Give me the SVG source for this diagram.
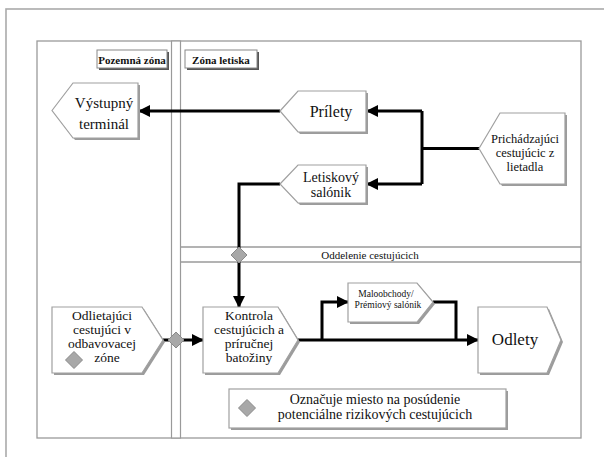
<svg xmlns="http://www.w3.org/2000/svg" width="604" height="457" viewBox="0 0 604 457">
<style>
.frame{fill:none;stroke:#9a9a9a;stroke-width:1.3}
.node{fill:#fff;stroke:#a0a0a0;stroke-width:1.2}
.sh{fill:#9c9c9c;stroke:none}
.shd{fill:#555;stroke:none}
.lbl{fill:#fff;stroke:#888;stroke-width:1}
text{font-family:'Liberation Serif','Times New Roman','DejaVu Serif',serif;fill:#111;text-anchor:middle}
.b{font-weight:bold}
.c{fill:none;stroke:#000;stroke-width:3}
.dia{fill:#a8a8a8;stroke:#8a8a8a;stroke-width:1}
</style>
<defs>
<marker id="ah" viewBox="0 0 12 12" refX="11" refY="6" markerWidth="13" markerHeight="12" markerUnits="userSpaceOnUse" orient="auto">
<path d="M0,0 L12,6 L0,12 z" fill="#000"/>
</marker>
</defs>
<rect width="604" height="457" fill="#fff"/>
<rect class="frame" x="6" y="9" width="640" height="480" style="stroke:#aaa;stroke-width:1.6"/>
<g id="frame">
<rect class="frame" x="37" y="41" width="544" height="397"/>
<rect x="171.5" y="41" width="9" height="397" fill="#fff" stroke="#9a9a9a" stroke-width="1.2"/>
<line class="frame" x1="181" y1="247" x2="581" y2="247"/>
<line class="frame" x1="181" y1="262" x2="581" y2="262"/>
<text x="370" y="258.5" font-size="11">Oddelenie cestujúcich</text>
</g>
<g id="label-pozemna">
<rect class="shd" x="99" y="52" width="70" height="18"/>
<rect class="lbl" x="97" y="50" width="70" height="18"/>
<text class="b" x="132" y="63.5" font-size="11">Pozemná zóna</text>
</g>
<g id="label-letiska">
<rect class="shd" x="187" y="52" width="72" height="18"/>
<rect class="lbl" x="185" y="50" width="72" height="18"/>
<text class="b" x="221" y="63.5" font-size="11">Zóna letiska</text>
</g>
<g id="connectors">
<polyline class="c" points="479,148.5 422,148.5"/>
<polyline class="c" points="422,111 422,184"/>
<line class="c" x1="422" y1="111" x2="367" y2="111" marker-end="url(#ah)"/>
<line class="c" x1="422" y1="184" x2="367" y2="184" marker-end="url(#ah)"/>
<line class="c" x1="280" y1="111" x2="139" y2="111" marker-end="url(#ah)"/>
<polyline class="c" points="280,184 239,184 239,307" marker-end="url(#ah)"/>
<line class="c" x1="163" y1="340" x2="203" y2="340" marker-end="url(#ah)"/>
<line class="c" x1="298" y1="340" x2="478" y2="340" marker-end="url(#ah)"/>
<polyline class="c" points="322,340 322,302 348,302" marker-end="url(#ah)"/>
<polyline class="c" points="433,302 456,302 456,340"/>
</g>
<g id="diamond-separation"><polygon class="dia" points="239,247 247,255 239,263 231,255"/></g>
<g id="diamond-checkin"><polygon class="dia" points="176,332 184,340 176,348 168,340"/></g>
<g id="vystupny-terminal">
<polygon class="sh" transform="translate(2,2)" points="52,110.5 73,83 138,83 138,138 73,138"/>
<polygon class="node" points="52,110.5 73,83 138,83 138,138 73,138"/>
<text x="104" y="108" font-size="15">Výstupný</text>
<text x="104" y="129" font-size="15">terminál</text>
</g>
<g id="prilety">
<polygon class="sh" transform="translate(2,2)" points="280,111 298,91 366,91 366,132 298,132"/>
<polygon class="node" points="280,111 298,91 366,91 366,132 298,132"/>
<text x="331" y="117" font-size="16">Prílety</text>
</g>
<g id="letiskovy-salonik">
<polygon class="sh" transform="translate(2,2)" points="280,184 298,165 366,165 366,203 298,203"/>
<polygon class="node" points="280,184 298,165 366,165 366,203 298,203"/>
<text x="331" y="182" font-size="14">Letiskový</text>
<text x="331" y="197" font-size="14">salónik</text>
</g>
<g id="prichadzajuci">
<polygon class="sh" transform="translate(2,2)" points="479,148.5 500,113 565,113 565,184 500,184"/>
<polygon class="node" points="479,148.5 500,113 565,113 565,184 500,184"/>
<text x="525" y="143" font-size="12.5">Prichádzajúci</text>
<text x="525" y="157" font-size="12.5">cestujúcic z</text>
<text x="525" y="171" font-size="12.5">lietadla</text>
</g>
<g id="odlietajuci">
<polygon class="sh" transform="translate(2,2)" points="52,307 142,307 163,340 142,373 52,373"/>
<polygon class="node" points="52,307 142,307 163,340 142,373 52,373"/>
<text x="102" y="320" font-size="13.5">Odlietajúci</text>
<text x="102" y="334" font-size="13.5">cestujúci v</text>
<text x="102" y="348" font-size="13.5">odbavovacej</text>
<text x="107" y="362" font-size="13.5">zóne</text>
<polygon class="dia" points="74,351.5 82.5,360 74,368.5 65.5,360"/>
</g>
<g id="kontrola">
<polygon class="sh" transform="translate(2,2)" points="203,307 278,307 298,340 278,373 203,373"/>
<polygon class="node" points="203,307 278,307 298,340 278,373 203,373"/>
<text x="249" y="320" font-size="13.5">Kontrola</text>
<text x="249" y="334" font-size="13.5">cestujúcich a</text>
<text x="249" y="348" font-size="13.5">príručnej</text>
<text x="249" y="362" font-size="13.5">batožiny</text>
</g>
<g id="maloobchody">
<polygon class="sh" transform="translate(2,2)" points="348,283 417,283 433,302 417,322 348,322"/>
<polygon class="node" points="348,283 417,283 433,302 417,322 348,322"/>
<text x="386" y="297" font-size="9.5">Maloobchody/</text>
<text x="388" y="308" font-size="9.5">Prémiový salónik</text>
</g>
<g id="odlety">
<polygon class="sh" transform="translate(2,2)" points="478,307 547,307 561,340 547,373 478,373"/>
<polygon class="node" points="478,307 547,307 561,340 547,373 478,373"/>
<text x="515" y="345" font-size="17">Odlety</text>
</g>
<g id="legend">
<rect class="sh" x="231" y="391" width="277" height="39"/>
<rect class="node" x="229" y="389" width="277" height="39"/>
<polygon class="dia" points="247,399.5 255.5,408 247,416.5 238.5,408"/>
<text x="375" y="404" font-size="14">Označuje miesto na posúdenie</text>
<text x="375" y="419" font-size="14">potenciálne rizikových cestujúcich</text>
</g>
</svg>
